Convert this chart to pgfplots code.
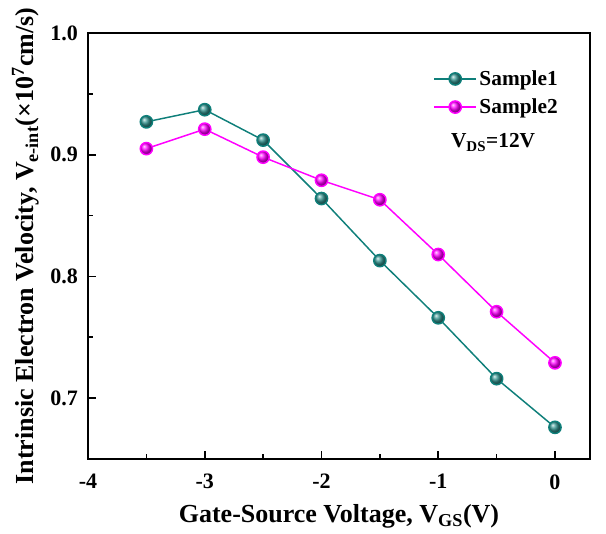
\documentclass[border=0pt]{standalone}
\usepackage{fontspec}
\setmainfont{Liberation Serif}
\usepackage{pgfplots}
\pgfplotsset{compat=1.18}
\definecolor{s1}{HTML}{0F7F7A}
\definecolor{s2}{HTML}{FF00FF}
\begin{document}
\begin{tikzpicture}
\begin{axis}[
  at={(0,0)}, anchor=south west,
  scale only axis, width=376.5pt, height=319.5pt,
  xmin=-4, xmax=0.3, ymin=0.65, ymax=1.0,
  xtick={-4,-3,-2,-1,0}, minor xtick={-3.5,-2.5,-1.5,-0.5},
  ytick={0.7,0.8,0.9,1.0}, minor ytick={0.75,0.85,0.95},
  xtick pos=left, ytick pos=left, tick align=inside,
  major tick length=6pt, minor tick length=3.5pt,
  axis line style={line width=1.4pt},
  every tick/.style={line width=1.2pt, black},
  /pgf/number format/assume math mode=true,
  ticklabel style={font=\bfseries\fontsize{16.5}{19}\selectfont},
  xticklabel style={yshift=-8pt},
  yticklabel style={xshift=-4pt, /pgf/number format/.cd, fixed, fixed zerofill, precision=1},
  xlabel={Gate-Source Voltage, V\textsubscript{GS}(V)},
  ylabel={Intrinsic Electron Velocity, V\textsubscript{e-int}(×10\textsuperscript{7}cm/s)},
  every axis x label/.style={at={(axis description cs:0.5,0)}, anchor=base, yshift=-47.25pt},
  every axis y label/.style={at={(axis description cs:0,0.5)}, xshift=-40.5pt, rotate=90, anchor=base},
  label style={font=\bfseries\fontsize{19.5}{23}\selectfont},
  legend style={draw=none, fill=none, at={(rel axis cs:0.68,0.925)}, anchor=north west,
    font=\bfseries\fontsize{16}{19}\selectfont, row sep=4.5pt},
  legend cell align=left,
  legend image code/.code={\draw[mark repeat=2,mark phase=2] plot coordinates {(0cm,0cm) (0.55cm,0cm) (1.1cm,0cm)};},
]
\addplot[color=s1, line width=1.1pt, mark=ball, mark size=4.6pt, mark options={ball color=s1!85!white}]
coordinates {(-3.5,0.927) (-3,0.937) (-2.5,0.912) (-2,0.864) (-1.5,0.813) (-1,0.766) (-0.5,0.716) (0,0.676)};
\addlegendentry{Sample1}
\addplot[color=s2, line width=1.1pt, mark=ball, mark size=4.6pt, mark options={ball color=s2}]
coordinates {(-3.5,0.905) (-3,0.921) (-2.5,0.898) (-2,0.879) (-1.5,0.863) (-1,0.818) (-0.5,0.771) (0,0.729)};
\addlegendentry{Sample2}
\node[font=\bfseries\fontsize{16}{19}\selectfont] at (axis cs:-0.53,0.91) {V\textsubscript{DS}=12V};
\end{axis}
\pgfresetboundingbox
\useasboundingbox (-66pt,-55.5pt) rectangle (388.5pt,344.25pt);
\end{tikzpicture}
\end{document}
